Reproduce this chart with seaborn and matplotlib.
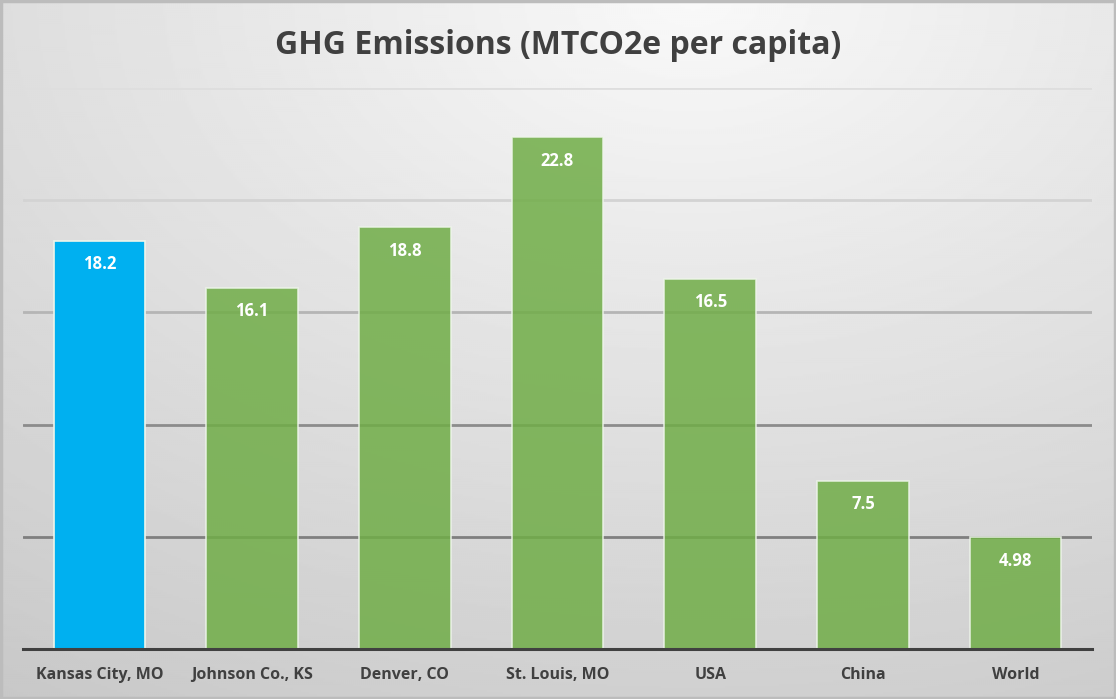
import numpy as np
import pandas as pd
import matplotlib
matplotlib.use("Agg")
import matplotlib.pyplot as plt
import seaborn as sns

# chart data
categories = ["Kansas City, MO", "Johnson Co., KS", "Denver, CO", "St. Louis, MO",
              "USA", "China", "World"]
emissions = [18.2, 16.1, 18.8, 22.8, 16.5, 7.5, 4.98]
value_labels = ["18.2", "16.1", "18.8", "22.8", "16.5", "7.5", "4.98"]
bar_colors = ["#00B0F0"] + ["#70AD47"] * 6
grid_values = [5, 10, 15, 20, 25]
grid_colors = ["#7f7f7f", "#8c8c8c", "#b5b5b5", "#d3d3d3", "#dedede"]

df = pd.DataFrame({"place": categories, "value": emissions})

sns.set_theme(style="white")
plt.rcParams["font.family"] = ["Open Sans", "DejaVu Sans"]

fig = plt.figure(figsize=(11.16, 6.99), dpi=100)

# gradient background over the whole figure
bg = fig.add_axes([0, 0, 1, 1], zorder=-2)
h, w = 350, 558
yy, xx = np.mgrid[0:h, 0:w]
cx, cy = 0.62 * w, 0.0
d = np.sqrt(((xx - cx) / w) ** 2 + ((yy - cy) / h) ** 2 * 0.9)
shade = np.clip(0.975 - 0.17 * d, 0.76, 0.975)
bg.imshow(shade, cmap="gray", vmin=0, vmax=1, aspect="auto", extent=[0, 1, 0, 1],
          interpolation="bilinear")
bg.set_xlim(0, 1)
bg.set_ylim(0, 1)
bg.axis("off")
# outer frame
bg.add_patch(plt.Rectangle((0.001, 0.002), 0.998, 0.996, fill=False,
                           edgecolor="#bcbcbc", linewidth=2.5))

ax = fig.add_axes([23 / 1116, 1 - 649 / 699, (1092 - 23) / 1116, (649 - 88) / 699])
ax.patch.set_alpha(0)

for gv, gc in zip(grid_values, grid_colors):
    ax.axhline(gv, color=gc, linewidth=2, zorder=0)

sns.barplot(data=df, x="place", y="value", hue="place", palette=bar_colors,
            legend=False, width=0.6, ax=ax, zorder=2, saturation=1)
for i, p in enumerate(ax.patches):
    p.set_edgecolor("#eef5ea")
    p.set_linewidth(1.2)
    if i > 0:
        p.set_alpha(0.85)

ax.set_ylim(0, 25)
ax.set_xlim(-0.5, len(categories) - 0.5)
ax.set_yticks([])
ax.set_xlabel("")
ax.set_ylabel("")
for s in ["top", "right", "left"]:
    ax.spines[s].set_visible(False)
ax.spines["bottom"].set_color("#404040")
ax.spines["bottom"].set_linewidth(2.2)
ax.spines["bottom"].set_zorder(5)
ax.tick_params(axis="x", length=0, pad=13, labelsize=11.5, labelcolor="#404040")
for t in ax.get_xticklabels():
    t.set_fontweight("bold")

for i, (v, lab) in enumerate(zip(emissions, value_labels)):
    ax.annotate(lab, (i, v), xytext=(0, -17), textcoords="offset points",
                ha="center", va="center", color="white", fontsize=12,
                fontweight="bold", zorder=6)

fig.text(0.5, 1 - 45 / 699, "GHG Emissions (MTCO2e per capita)", ha="center",
         va="center", fontsize=23, fontweight="bold", color="#404040")

fig.savefig("out.png", dpi=100)
